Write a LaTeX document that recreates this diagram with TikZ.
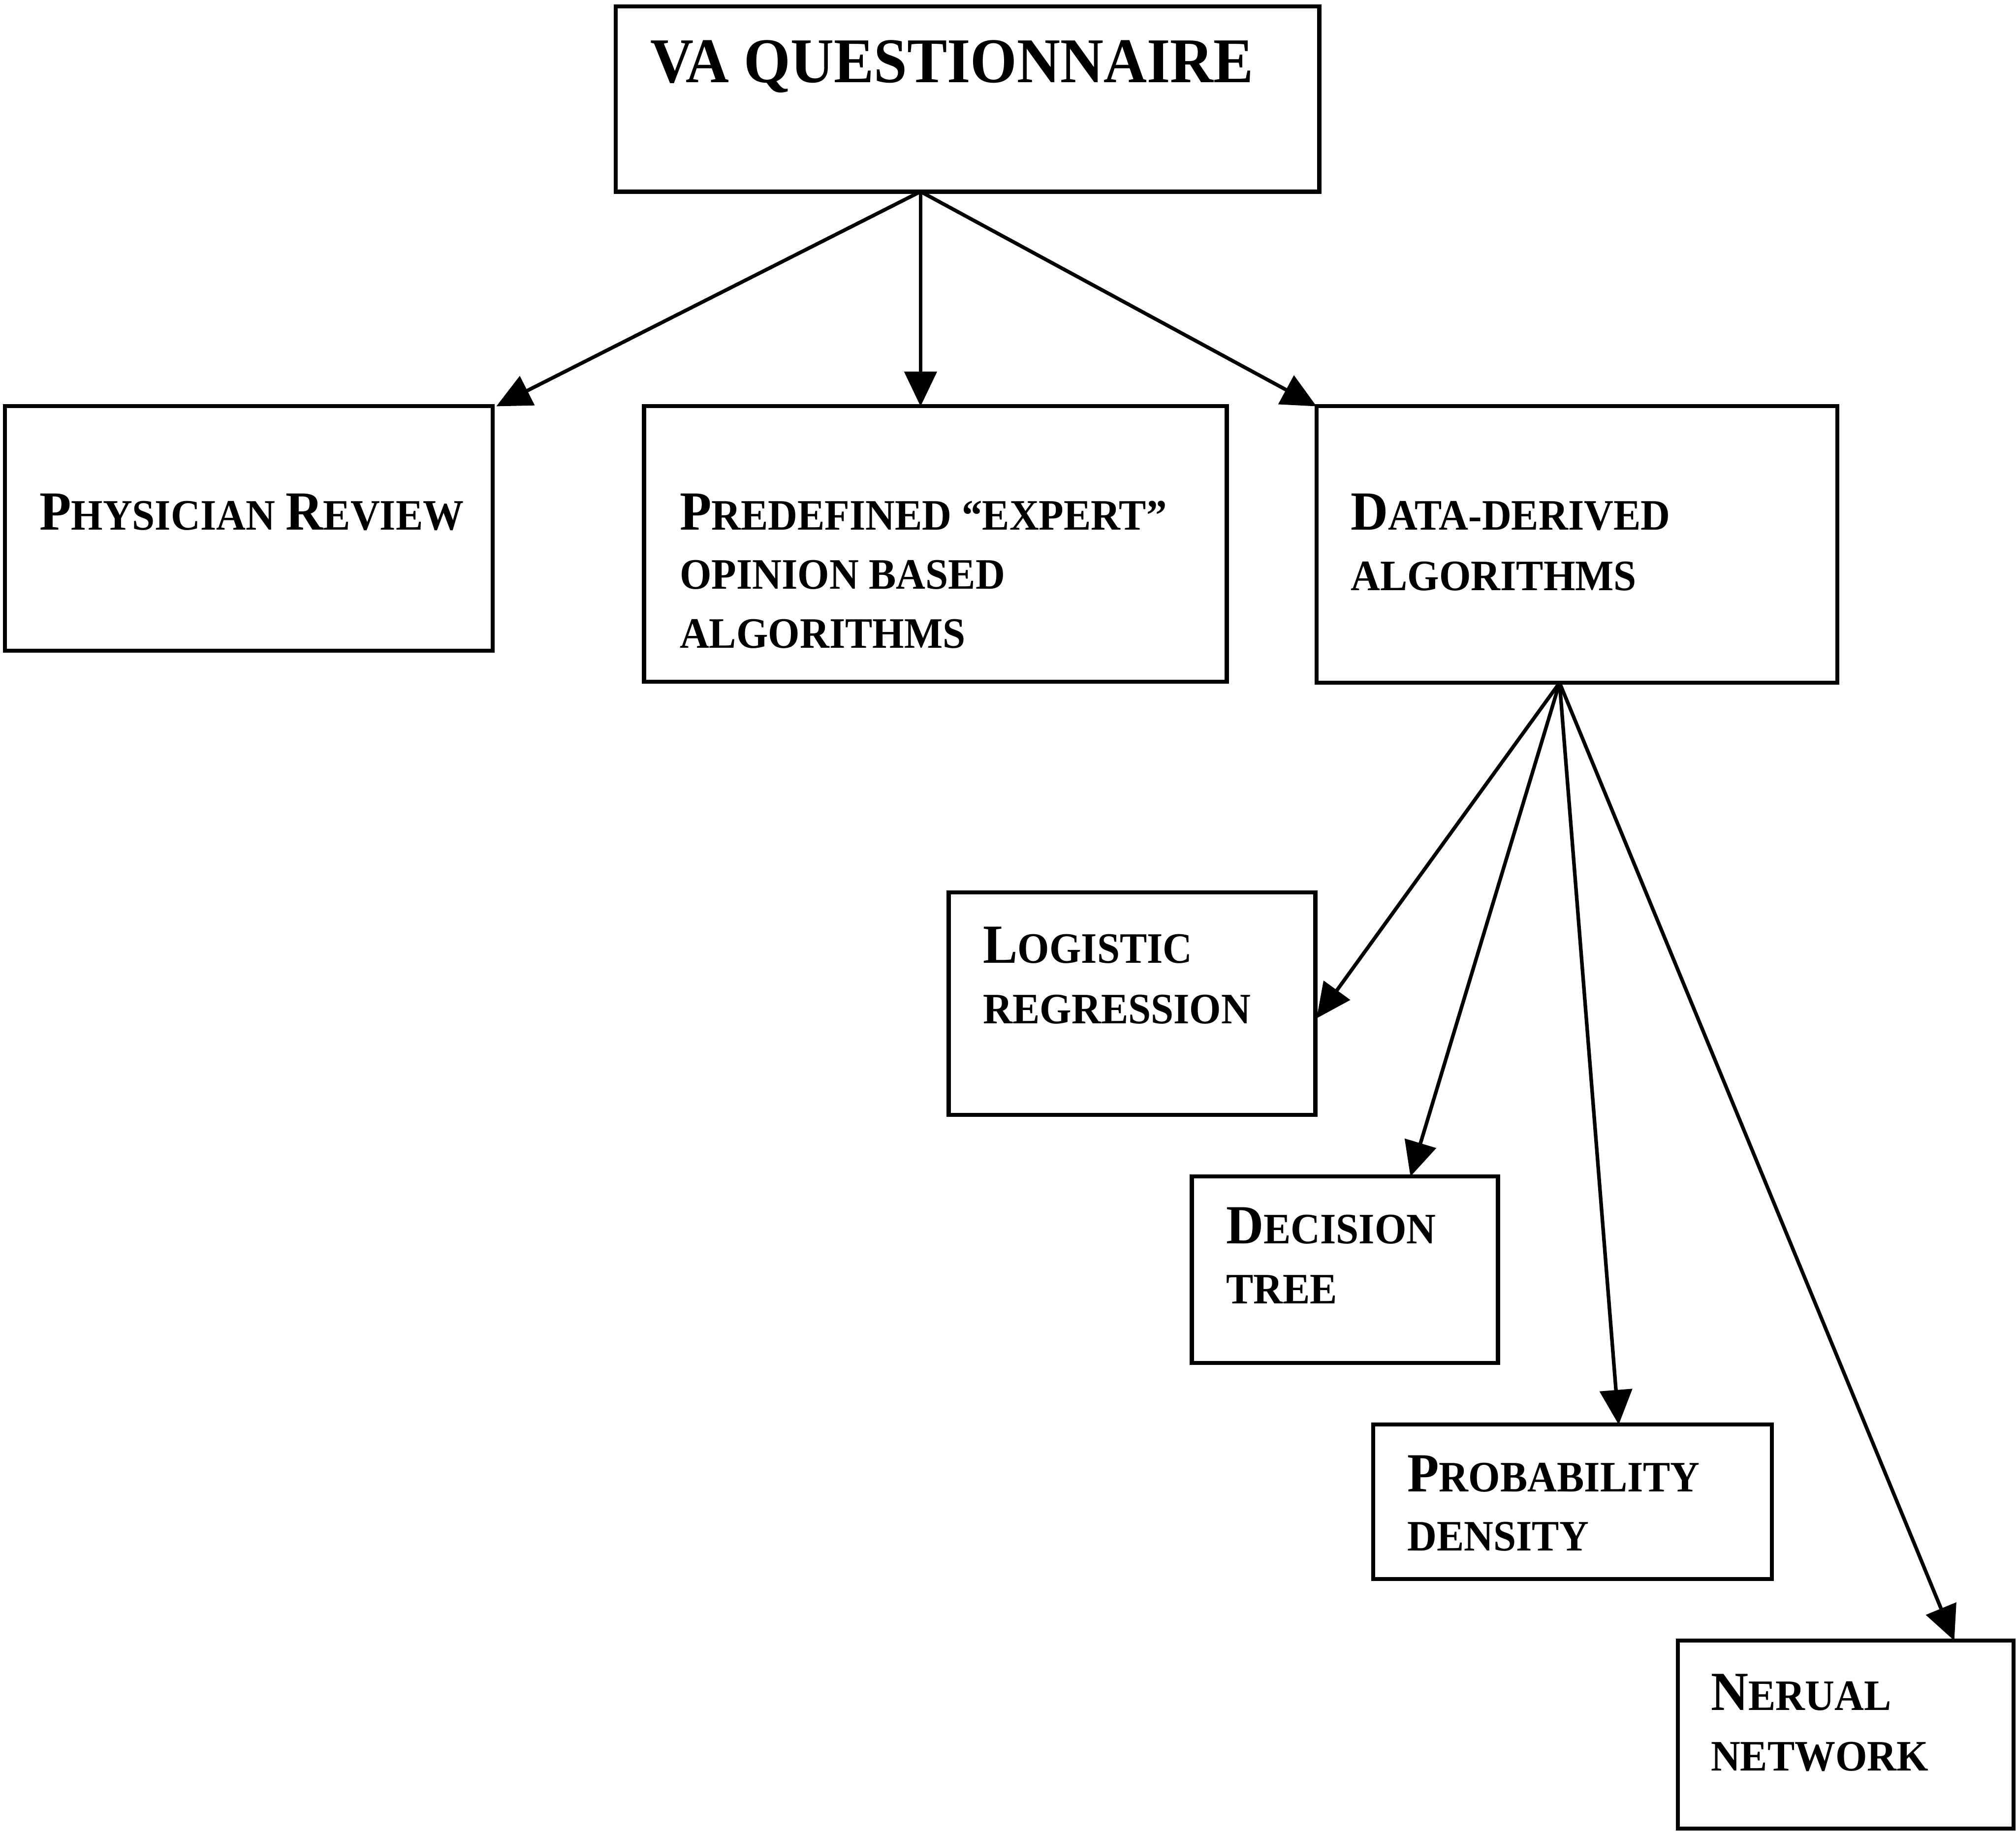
\documentclass[tikz,border=0pt]{standalone}
\usepackage{fontspec}
\setmainfont{Liberation Serif}[FakeStretch=0.94]
\usetikzlibrary{arrows.meta}
\newcommand\Bg[1]{{\fontsize{12.2}{14}\selectfont #1}}
\newcommand\Sm[1]{{\fontsize{9.6}{14}\selectfont #1}}
\begin{document}
\begin{tikzpicture}[x=0.01cm,y=-0.01cm,
  box/.style={draw, line width=0.9pt, rectangle, inner sep=0pt},
  lbl/.style={anchor=base west, inner sep=0pt, font=\bfseries},
  arr/.style={line width=0.8pt, -{Triangle[length=0.27cm,width=0.25cm]}}]
\path[use as bounding box] (0,0) rectangle (1568,1426);
% boxes
\node[box, minimum width=5.47cm, minimum height=1.44cm] (va)   at (752.5,77)   {};
\node[box, minimum width=3.79cm, minimum height=1.90cm] (phy)  at (193.5,411)  {};
\node[box, minimum width=4.53cm, minimum height=2.14cm] (pre)  at (727.5,423)  {};
\node[box, minimum width=4.05cm, minimum height=2.15cm] (dat)  at (1226.5,423.5) {};
\node[box, minimum width=2.85cm, minimum height=1.73cm] (logi) at (880.5,780.5) {};
\node[box, minimum width=2.38cm, minimum height=1.45cm] (deci) at (1046,987.5) {};
\node[box, minimum width=3.10cm, minimum height=1.20cm] (prob) at (1223,1168)  {};
\node[box, minimum width=2.61cm, minimum height=1.46cm] (neur) at (1435.5,1349) {};
% texts
\node[lbl, font=\bfseries\fontsize{14.1}{16}\selectfont] (vat) at (505,64) {VA QUESTIONNAIRE};
\node[lbl] (phyt) at (30,412) {\Bg{P}\Sm{HYSICIAN} \Bg{R}\Sm{EVIEW}};
\node[lbl] (pre1) at (528,412) {\Bg{P}\Sm{REDEFINED “EXPERT”}};
\node[lbl] (pre2) at (528,458) {\Sm{OPINION BASED}};
\node[lbl] (pre3) at (528,504) {\Sm{ALGORITHMS}};
\node[lbl] (dat1) at (1050,412) {\Bg{D}\Sm{ATA-DERIVED}};
\node[lbl] (dat2) at (1050,459) {\Sm{ALGORITHMS}};
\node[lbl] (log1) at (764,749) {\Bg{L}\Sm{OGISTIC}};
\node[lbl] (log2) at (764,796) {\Sm{REGRESSION}};
\node[lbl] (dec1) at (953,967) {\Bg{D}\Sm{ECISION}};
\node[lbl] (dec2) at (953,1014) {\Sm{TREE}};
\node[lbl] (pro1) at (1094,1160) {\Bg{P}\Sm{ROBABILITY}};
\node[lbl] (pro2) at (1094,1206) {\Sm{DENSITY}};
\node[lbl] (neu1) at (1330,1330) {\Bg{N}\Sm{ERUAL}};
\node[lbl] (neu2) at (1330,1377) {\Sm{NETWORK}};
% connector ends
\coordinate (vaout)  at (716,149);
\coordinate (datout) at (1213,531);
\coordinate (phyin)  at (386,316);
\coordinate (prein)  at (716,316);
\coordinate (datin)  at (1024,316);
\coordinate (login)  at (1024,792);
\coordinate (decin)  at (1097,915);
\coordinate (proin)  at (1259,1108);
\coordinate (neuin)  at (1520,1276);
% arrows
\draw[arr] (vaout) -- (phyin);
\draw[arr] (vaout) -- (prein);
\draw[arr] (vaout) -- (datin);
\draw[arr] (datout) -- (login);
\draw[arr] (datout) -- (decin);
\draw[arr] (datout) -- (proin);
\draw[arr] (datout) -- (neuin);
\end{tikzpicture}
\end{document}
